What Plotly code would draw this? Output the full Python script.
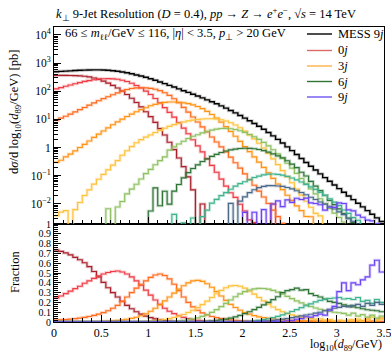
import plotly.graph_objects as go

# ---------------- data ----------------
bin_width = 0.05
n_bins = 70
x_min, x_max = 0.0, 3.5

# log10 of the total cross section per bin (MESS 9j), pb
total_log10 = [
    2.695, 2.705, 2.715, 2.725, 2.735, 2.745, 2.752, 2.757, 2.760, 2.760,
    2.755, 2.745, 2.730, 2.710, 2.685, 2.655, 2.620, 2.580, 2.540, 2.495,
    2.445, 2.390, 2.330, 2.270, 2.210, 2.150, 2.085, 2.020, 1.960, 1.895,
    1.830, 1.765, 1.695, 1.625, 1.555, 1.480, 1.400, 1.315, 1.230, 1.140,
    1.045, 0.950, 0.855, 0.755, 0.650, 0.535, 0.415, 0.290, 0.160, 0.025,
    -0.110, -0.250, -0.390, -0.530, -0.665, -0.800, -0.935, -1.070, -1.200, -1.330,
    -1.460, -1.590, -1.720, -1.850, -1.980, -2.110, -2.240, -2.370, -2.500, -2.630]

# fraction of the total in each jet multiplicity
frac_0j = [
    0.735, 0.72, 0.705, 0.685, 0.66, 0.635, 0.605, 0.565, 0.515, 0.46,
    0.405, 0.35, 0.30, 0.255, 0.21, 0.17, 0.135, 0.105, 0.08, 0.06,
    0.045, 0.032, 0.022, 0.015, 0.0095, 0.006, 0.0035, 0.002, 0.001, 0.0004,
    0.0, 0.00017, 0.0, 0.0, 0.0, 0.0, 0.0, 0.0, 0.0, 0.0,
    0.0, 0.0, 0.0, 0.0, 0.0, 0.0, 0.0, 0.0, 0.0, 0.0,
    0.0, 0.0, 0.0, 0.0, 0.0, 0.0, 0.0, 0.0, 0.0, 0.0,
    0.0, 0.0, 0.0, 0.0, 0.0, 0.0, 0.0, 0.0, 0.0, 0.0]
frac_1j = [
    0.245, 0.265, 0.29, 0.315, 0.34, 0.365, 0.395, 0.42, 0.445, 0.47,
    0.49, 0.505, 0.515, 0.52, 0.51, 0.49, 0.46, 0.42, 0.375, 0.325,
    0.275, 0.225, 0.18, 0.14, 0.11, 0.085, 0.063, 0.047, 0.034, 0.024,
    0.017, 0.012, 0.008, 0.0055, 0.0037, 0.0025, 0.0017, 0.0012, 0.001, 0.0007,
    0.0005, 0.0003, 0.0003, 0.0, 0.0, 0.0, 0.0038, 0.0, 0.0, 0.0,
    0.0, 0.0, 0.0, 0.0, 0.0, 0.0, 0.0, 0.0, 0.0, 0.0,
    0.0, 0.0, 0.0, 0.0, 0.0, 0.0, 0.0, 0.0, 0.0, 0.0]
frac_2j = [
    0.019, 0.022, 0.025, 0.029, 0.034, 0.040, 0.047, 0.056, 0.067, 0.080,
    0.096, 0.115, 0.14, 0.17, 0.21, 0.255, 0.30, 0.345, 0.385, 0.42,
    0.455, 0.48, 0.49, 0.475, 0.44, 0.385, 0.32, 0.255, 0.20, 0.155,
    0.12, 0.093, 0.072, 0.056, 0.044, 0.035, 0.028, 0.022, 0.017, 0.0135,
    0.0105, 0.0082, 0.0064, 0.005, 0.0039, 0.003, 0.0023, 0.0018, 0.0014, 0.0011,
    0.0009, 0.0007, 0.0, 0.0012, 0.0, 0.0, 0.0, 0.0, 0.0, 0.0,
    0.0, 0.0, 0.0, 0.0, 0.0, 0.0, 0.0, 0.0, 0.0, 0.0]
frac_3j = [
    0.0006, 0.0007, 0.0009, 0.0011, 0.0014, 0.0018, 0.0023, 0.003, 0.004, 0.0052,
    0.0068, 0.009, 0.012, 0.016, 0.021, 0.028, 0.037, 0.049, 0.064, 0.083,
    0.11, 0.14, 0.175, 0.215, 0.255, 0.295, 0.335, 0.37, 0.40, 0.42,
    0.425, 0.415, 0.39, 0.355, 0.31, 0.265, 0.22, 0.18, 0.148, 0.12,
    0.097, 0.08, 0.065, 0.053, 0.044, 0.037, 0.031, 0.026, 0.022, 0.019,
    0.017, 0.015, 0.014, 0.012, 0.016, 0.009, 0.012, 0.007, 0.011, 0.005,
    0.013, 0.004, 0.009, 0.02, 0.006, 0.015, 0.03, 0.01, 0.02, 0.04]
frac_4j = [
    0.0000076, 0.00001, 0.000011, 0.0, 0.0000115, 0.00002, 0.000035, 0.000055, 0.000087, 0.00013,
    0.000195, 0.00029, 0.00044, 0.00067, 0.0011, 0.0017, 0.0026, 0.0039, 0.0055, 0.0075,
    0.010, 0.014, 0.019, 0.026, 0.035, 0.046, 0.06, 0.077, 0.097, 0.12,
    0.147, 0.178, 0.213, 0.25, 0.288, 0.322, 0.35, 0.368, 0.372, 0.365,
    0.345, 0.315, 0.285, 0.25, 0.215, 0.183, 0.153, 0.127, 0.105, 0.087,
    0.072, 0.06, 0.05, 0.042, 0.035, 0.029, 0.032, 0.02, 0.025, 0.014,
    0.018, 0.01, 0.022, 0.012, 0.03, 0.008, 0.02, 0.05, 0.015, 0.03]
frac_5j = [
    0.0, 0.0, 0.0, 0.0, 0.0, 0.0, 0.0, 0.0, 0.0, 0.0,
    0.0, 0.000012, 0.0, 0.000015, 0.000025, 0.00005, 0.00008, 0.00013, 0.00022, 0.00038,
    0.0006, 0.001, 0.0016, 0.0025, 0.005, 0.0075, 0.011, 0.016, 0.023, 0.032,
    0.042, 0.057, 0.076, 0.099, 0.126, 0.157, 0.19, 0.225, 0.258, 0.287,
    0.31, 0.327, 0.338, 0.343, 0.342, 0.335, 0.322, 0.305, 0.285, 0.262,
    0.238, 0.215, 0.195, 0.175, 0.158, 0.143, 0.13, 0.118, 0.108, 0.10,
    0.094, 0.088, 0.07, 0.09, 0.06, 0.075, 0.05, 0.07, 0.04, 0.06]
frac_6j = [
    0.0, 0.0, 0.0, 0.0, 0.0, 0.0, 0.0, 0.0, 0.0, 0.0,
    0.0, 0.0, 0.0, 0.0, 0.0, 0.0, 0.0, 0.0, 0.0, 0.0,
    0.00002, 0.00015, 0.00004, 0.00015, 0.00006, 0.0002, 0.0004, 0.0008, 0.0014, 0.0023,
    0.0036, 0.0055, 0.008, 0.0115, 0.016, 0.022, 0.03, 0.04, 0.052, 0.067,
    0.085, 0.105, 0.127, 0.15, 0.175, 0.2, 0.228, 0.258, 0.30, 0.32,
    0.33, 0.345, 0.325, 0.33, 0.29, 0.27, 0.255, 0.235, 0.21, 0.2,
    0.19, 0.175, 0.165, 0.155, 0.145, 0.135, 0.125, 0.12, 0.115, 0.105]
frac_7j = [
    0.0, 0.0, 0.0, 0.0, 0.0, 0.0, 0.0, 0.0, 0.0, 0.0,
    0.0, 0.0, 0.0, 0.0, 0.0, 0.0, 0.0, 0.0, 0.0, 0.0,
    0.0, 0.0, 0.0, 0.0, 0.0, 0.00003, 0.0, 0.00002, 0.0, 0.00004,
    0.0, 0.00006, 0.00012, 0.00025, 0.0004, 0.00065, 0.001, 0.0016, 0.0025, 0.0038,
    0.0055, 0.008, 0.012, 0.017, 0.024, 0.033, 0.044, 0.057, 0.072, 0.089,
    0.107, 0.126, 0.146, 0.166, 0.185, 0.205, 0.22, 0.232, 0.24, 0.245,
    0.25, 0.235, 0.24, 0.23, 0.25, 0.21, 0.22, 0.19, 0.23, 0.2]
frac_8j = [
    0.0, 0.0, 0.0, 0.0, 0.0, 0.0, 0.0, 0.0, 0.0, 0.0,
    0.0, 0.0, 0.0, 0.0, 0.0, 0.0, 0.0, 0.0, 0.0, 0.0,
    0.0, 0.0, 0.0, 0.0, 0.0, 0.0, 0.0, 0.0, 0.0, 0.0,
    0.0, 0.0, 0.0, 0.0, 0.0, 0.0, 0.0, 0.0005, 0.0, 0.0009,
    0.0016, 0.0028, 0.0044, 0.0066, 0.0093, 0.013, 0.017, 0.022, 0.029, 0.036,
    0.044, 0.052, 0.062, 0.071, 0.079, 0.09, 0.10, 0.115, 0.13, 0.14,
    0.15, 0.16, 0.155, 0.17, 0.18, 0.16, 0.19, 0.17, 0.2, 0.18]
frac_9j = [
    0.0, 0.0, 0.0, 0.0, 0.0, 0.0, 0.0, 0.0, 0.0, 0.0,
    0.0, 0.0, 0.0, 0.0, 0.0, 0.0, 0.0, 0.0, 0.0, 0.0,
    0.0, 0.0, 0.0, 0.0, 0.0, 0.0, 0.0, 0.0, 0.0, 0.0,
    0.0, 0.0, 0.0, 0.0, 0.0, 0.0, 0.0, 0.0, 0.0, 0.0,
    0.00045, 0.0, 0.0007, 0.0, 0.0014, 0.0, 0.0038, 0.0065, 0.0055, 0.013,
    0.0145, 0.028, 0.035, 0.054, 0.05, 0.065, 0.08, 0.07, 0.12, 0.16,
    0.31, 0.40, 0.32, 0.40, 0.38, 0.43, 0.46, 0.58, 0.63, 0.51]

series_names = ["0j", "1j", "2j", "3j", "4j", "5j", "6j", "7j", "8j", "9j"]
series_fracs = [frac_0j, frac_1j, frac_2j, frac_3j, frac_4j,
                frac_5j, frac_6j, frac_7j, frac_8j, frac_9j]
series_colors = ["#a8202a", "#ee3b45", "#ff6b1f", "#ff9316", "#ffc23e",
                 "#8fc163", "#2e7436", "#41b48e", "#4b6a8a", "#6b45f2"]
halo_colors = ["rgba(168,32,42,0.25)", "rgba(238,59,69,0.25)", "rgba(255,107,31,0.25)",
               "rgba(255,147,22,0.25)", "rgba(255,194,62,0.28)", "rgba(143,193,99,0.28)",
               "rgba(46,116,54,0.25)", "rgba(65,180,142,0.25)", "rgba(75,106,138,0.25)",
               "rgba(107,69,242,0.25)"]
legend_entries = [("MESS 9<i>j</i>", "black"), ("0<i>j</i>", "#d86a6a"),
                  ("3<i>j</i>", "#ffb04a"), ("6<i>j</i>", "#2e7436"), ("9<i>j</i>", "#6b55f2")]

for arr in series_fracs + [total_log10]:
    assert len(arr) == n_bins

edges = [round(x_min + bin_width * i, 4) for i in range(n_bins + 1)]
total_pb = [10 ** t for t in total_log10]


def steps(vals):
    return list(vals) + [vals[-1]]


fig = go.Figure()

for name, fr, col, hcol in zip(series_names, series_fracs, series_colors, halo_colors):
    top_vals = [tp * f if f > 0 else 1e-9 for tp, f in zip(total_pb, fr)]
    for w, c in ((3.0, hcol), (1.15, col)):
        fig.add_trace(go.Scatter(x=edges, y=steps(top_vals), mode="lines",
                                 line=dict(shape="hv", color=c, width=w),
                                 xaxis="x2", yaxis="y2", hoverinfo="skip", name=name))
        fig.add_trace(go.Scatter(x=edges, y=steps(fr), mode="lines",
                                 line=dict(shape="hv", color=c, width=w),
                                 xaxis="x", yaxis="y", hoverinfo="skip", name=name))

for w, c in ((3.2, "rgba(0,0,0,0.2)"), (1.4, "black")):
    fig.add_trace(go.Scatter(x=edges, y=steps(total_pb), mode="lines",
                             line=dict(shape="hv", color=c, width=w),
                             xaxis="x2", yaxis="y2", hoverinfo="skip", name="MESS 9j"))

# ---------------- layout ----------------
W, H = 391, 353
ML, MR, MT, MB = 54, 7, 27, 31
PW, PH = W - ML - MR, H - MT - MB
split = 98 / PH


def px(xp):
    return (xp - ML) / PW


def py(yp):
    return (H - MB - yp) / PH


FONT = "Liberation Serif"
axis_common = dict(showline=True, linecolor="black", linewidth=1, mirror=True,
                   showgrid=False, zeroline=False, ticks="inside", tickcolor="black",
                   tickwidth=1, automargin=False, ticklabeloverflow="allow")

log_major = [1e-2, 1e-1, 1, 10, 100, 1e3, 1e4]
log_text = ["10<sup>−2</sup>", "10<sup>−1</sup>", "1", "10<sup>1</sup>",
            "10<sup>2</sup>", "10<sup>3</sup>", "10<sup>4</sup>"]
log_minor = [m * 10 ** e for e in range(-3, 5) for m in range(2, 10)]

x_ticks = [0, 0.5, 1, 1.5, 2, 2.5, 3, 3.5]
x_text = ["0", "0.5", "1", "1.5", "2", "2.5", "3", "3.5"]
f_ticks = [0, 0.1, 0.2, 0.3, 0.4, 0.5, 0.6, 0.7, 0.8, 0.9, 1.0]
f_text = ["0", "0.1", "0.2", "0.3", "0.4", "0.5", "0.6", "0.7", "0.8", "0.9", "1"]

fig.update_layout(
    width=W, height=H, margin=dict(l=ML, r=MR, t=MT, b=MB, autoexpand=False),
    paper_bgcolor="white", plot_bgcolor="white", showlegend=False,
    font=dict(family=FONT, size=12, color="black"),
    xaxis=dict(domain=[0, 1], anchor="y", range=[x_min, x_max],
               tickmode="array", tickvals=x_ticks, ticktext=x_text, ticklen=7,
               minor=dict(dtick=0.1, ticklen=4, ticks="inside", tickcolor="black"),
               tickfont=dict(family=FONT, size=12), **axis_common),
    yaxis=dict(domain=[0, split], anchor="x", range=[0, 1],
               tickmode="array", tickvals=f_ticks, ticktext=f_text, ticklen=7,
               minor=dict(dtick=0.02, tick0=0, ticklen=3.5, ticks="inside", tickcolor="black"),
               tickfont=dict(family=FONT, size=10), **axis_common),
    xaxis2=dict(domain=[0, 1], anchor="y2", matches="x", range=[x_min, x_max],
                showticklabels=False, tickmode="array", tickvals=x_ticks, ticklen=7,
                minor=dict(dtick=0.1, ticklen=4, ticks="inside", tickcolor="black"),
                **axis_common),
    yaxis2=dict(domain=[split, 1], anchor="x2", type="log", range=[-2.717, 4.283],
                tickmode="array", tickvals=log_major, ticktext=log_text, ticklen=7,
                minor=dict(tickmode="array", tickvals=log_minor, ticklen=3.5,
                           ticks="inside", tickcolor="black"),
                tickfont=dict(family=FONT, size=11.5), **axis_common),
)

ann = []
ann.append(dict(x=px(206), y=py(14), xref="paper", yref="paper", showarrow=False,
                text="<i>k</i><sub>⊥</sub> 9-Jet Resolution (<i>D</i> = 0.4), <i>pp</i> → <i>Z</i> → "
                     "<i>e</i><sup>+</sup><i>e</i><sup>−</sup>, √<i>s</i> = 14 TeV",
                font=dict(family=FONT, size=12.5), xanchor="center", yanchor="middle"))
ann.append(dict(x=px(63), y=py(34), xref="paper", yref="paper", showarrow=False,
                text="66 ≤ <i>m</i><sub>ℓℓ</sub>/GeV ≤ 116, |<i>η</i>| &lt; 3.5, <i>p</i><sub>⊥</sub> &gt; 20 GeV",
                font=dict(family=FONT, size=12.5), xanchor="left", yanchor="middle"))
ann.append(dict(x=px(15), y=py(112), xref="paper", yref="paper", showarrow=False,
                text="d<i>σ</i>/d log<sub>10</sub>(<i>d</i><sub>89</sub>/GeV) [pb]", textangle=-90,
                font=dict(family=FONT, size=12.5), xanchor="center", yanchor="middle"))
ann.append(dict(x=px(15), y=py(272), xref="paper", yref="paper", showarrow=False,
                text="Fraction", textangle=-90,
                font=dict(family=FONT, size=12.5), xanchor="center", yanchor="middle"))
ann.append(dict(x=px(384), y=py(345), xref="paper", yref="paper", showarrow=False,
                text="log<sub>10</sub>(<i>d</i><sub>89</sub>/GeV)",
                font=dict(family=FONT, size=12), xanchor="right", yanchor="middle"))

shapes = []
row_y = [34, 50.5, 66, 81.5, 97]
for (label, col), yy in zip(legend_entries, row_y):
    shapes.append(dict(type="line", xref="paper", yref="paper",
                       x0=px(307), x1=px(332), y0=py(yy), y1=py(yy),
                       line=dict(color=col, width=1.4)))
    ann.append(dict(x=px(336), y=py(yy), xref="paper", yref="paper", showarrow=False,
                    text=label, font=dict(family=FONT, size=12.5),
                    xanchor="left", yanchor="middle"))

fig.update_layout(annotations=ann, shapes=shapes)
# the page body has a default 8px margin; remove it so the figure sits at the window origin
fig.write_html("out.html", config={"displayModeBar": False},
               post_script="document.body.style.margin='0px';")
